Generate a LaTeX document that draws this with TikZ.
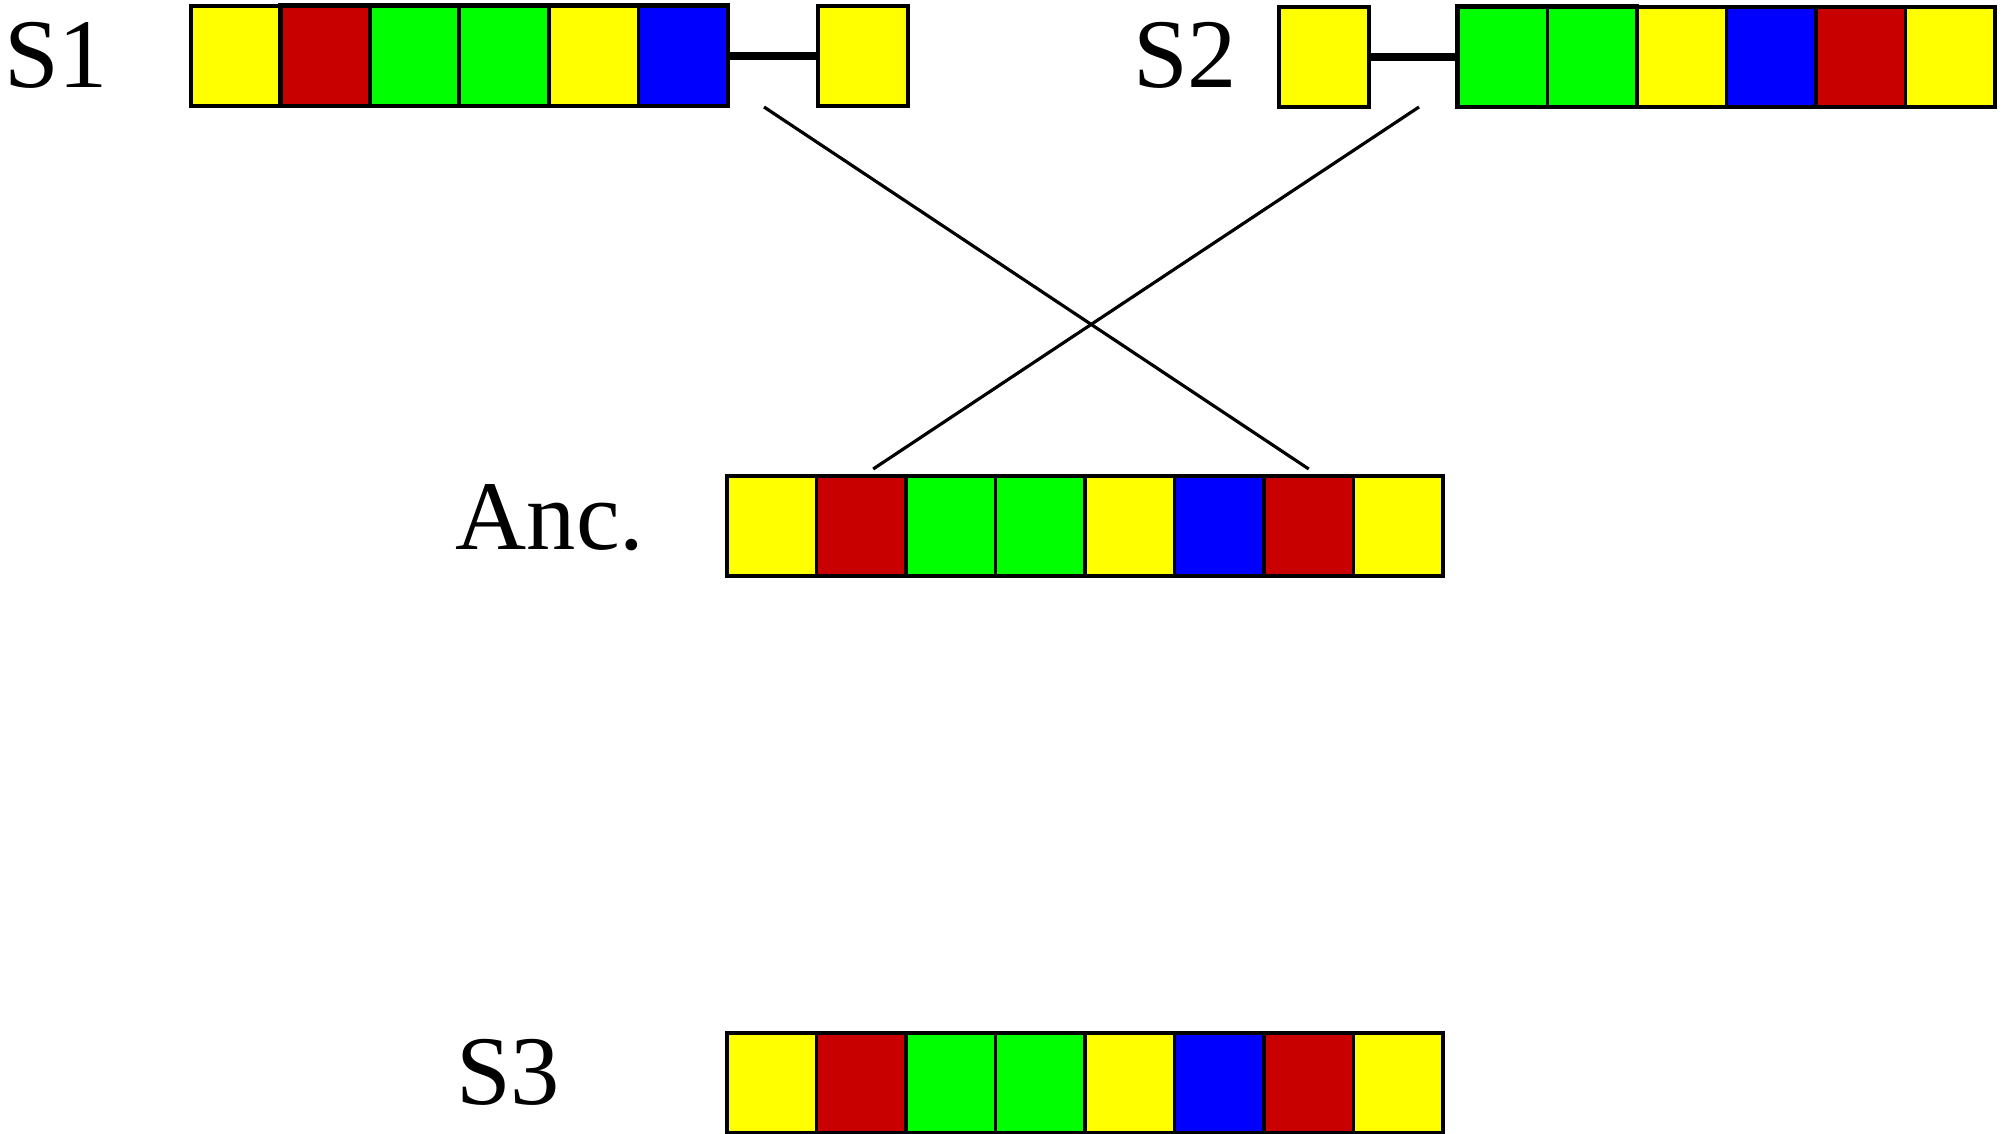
\documentclass[tikz,border=0pt]{standalone}
\usepackage{fontspec}
\setmainfont{Liberation Serif}
\usetikzlibrary{positioning}
\definecolor{gyel}{RGB}{255,255,0}
\definecolor{gred}{RGB}{200,0,0}
\definecolor{ggrn}{RGB}{0,255,0}
\definecolor{gblu}{RGB}{0,0,255}
\tikzset{
	cell/.style={draw=black, line width=1.1pt, minimum width=0.895cm, minimum height=1cm, inner sep=0pt, outer sep=0pt},
	lbl/.style={font=\fontsize{28}{30}\selectfont, inner sep=0pt},
	linker/.style={line width=2.2pt},
	cross/.style={line width=0.9pt}
}

\begin{document}
\begin{tikzpicture}[x=0.01cm,y=-0.01cm]
		\useasboundingbox (0,0) rectangle (2007,1134);

		% S1 with its split-off piece
		\node[lbl] (lS1) at (56,55) {S1};
		\foreach \c [count=\i] in {gyel,gred,ggrn,ggrn,gyel,gblu}
			\node[cell, fill=\c] (s1-\i) at ({235.7+89.5*(\i-1)},56) {};
		\draw[line width=1.4pt] (s1-2.north west) rectangle (s1-6.south east);
		\node[cell, fill=gyel] (s1x) at (863,56) {};
		\draw[linker] (s1-6.east) -- (s1x.west);

		% S2 with its split-off piece
		\node[lbl] (lS2) at (1185,55) {S2};
		\node[cell, fill=gyel] (s2x) at (1324,57) {};
		\foreach \c [count=\i] in {ggrn,ggrn,gyel,gblu,gred,gyel}
			\node[cell, fill=\c] (s2-\i) at ({1502.7+89.5*(\i-1)},57) {};
		\draw[line width=1.4pt] (s2-1.north west) rectangle (s2-2.south east);
		\draw[linker] (s2x.east) -- (s2-1.west);

		% ancestor
		\node[lbl] (lAnc) at (550,518) {Anc.};
		\foreach \c [count=\i] in {gyel,gred,ggrn,ggrn,gyel,gblu,gred,gyel}
			\node[cell, fill=\c] (a-\i) at ({771.7+89.5*(\i-1)},526) {};

		% S3
		\node[lbl] (lS3) at (508,1072) {S3};
		\foreach \c [count=\i] in {gyel,gred,ggrn,ggrn,gyel,gblu,gred,gyel}
			\node[cell, fill=\c] (s3-\i) at ({771.7+89.5*(\i-1)},1083) {};

		% breakpoints
		\coordinate (b1) at (764,107);
		\coordinate (b2) at (1419,107);
		\draw[cross] (b1) -- ([yshift=0.07cm]a-7.north);
		\draw[cross] (b2) -- ([xshift=0.12cm,yshift=0.07cm]a-2.north);
	\end{tikzpicture}
\end{document}
